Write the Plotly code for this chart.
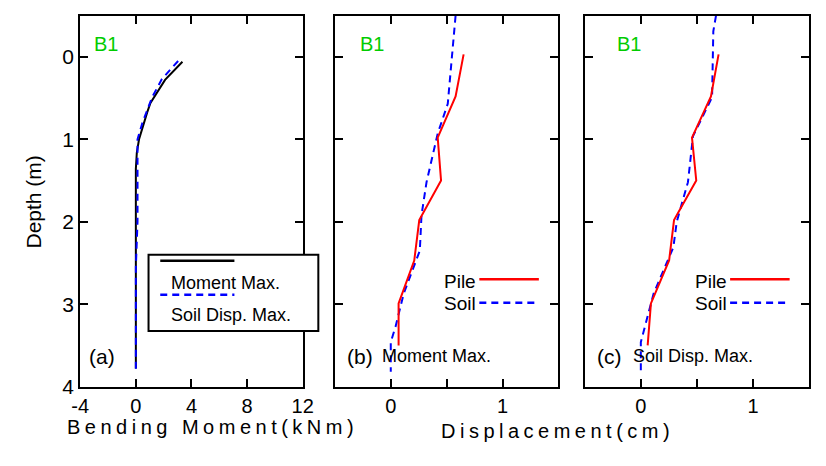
import plotly.graph_objects as go

W, H = 826, 466

# ---------------- data ----------------
# (a) bending moment profiles
depth_a_moment = [0.06, 0.19, 0.28, 0.56, 0.67, 1.0, 1.16, 1.36, 3.78]
moment_a_moment = [3.35, 2.57, 2.1, 1.05, 0.82, 0.23, 0.07, 0.0, 0.0]
depth_a_soil = [0.05, 0.27, 0.49, 0.8, 1.0, 2.0, 2.55, 3.8]
moment_a_soil = [3.04, 1.87, 1.17, 0.47, 0.12, 0.12, 0.0, 0.0]

# (b) displacement at moment max
depth_b_pile = [-0.03, 0.48, 0.98, 1.5, 1.98, 2.47, 2.99, 3.5]
disp_b_pile = [0.652, 0.58, 0.42, 0.45, 0.255, 0.21, 0.07, 0.07]
depth_b_soil = [-0.5, -0.03, 0.57, 0.93, 1.52, 1.92, 2.35, 2.87, 3.27, 3.46, 3.82]
disp_b_soil = [0.58, 0.55, 0.51, 0.42, 0.32, 0.275, 0.26, 0.116, 0.043, 0.0, 0.0]

# (c) displacement at soil displacement max
depth_c_pile = [-0.03, 0.48, 0.98, 1.5, 1.98, 2.47, 2.99, 3.5]
disp_c_pile = [0.693, 0.625, 0.456, 0.494, 0.296, 0.252, 0.09, 0.061]
depth_c_soil = [-0.5, -0.31, 0.49, 0.96, 1.52, 2.0, 2.31, 2.87, 3.46, 3.82]
disp_c_soil = [0.67, 0.646, 0.635, 0.465, 0.42, 0.32, 0.29, 0.114, 0.0, 0.0]

depth_ticks = [0, 1, 2, 3, 4]
moment_ticks = [-4, 0, 4, 8, 12]
moment_ticktext = ["-4", "0", "4", "8", "12"]
disp_tickvals = [-0.5, 0, 0.5, 1, 1.5]
disp_ticktext = ["", "0", "", "1", ""]

# ---------------- helpers ----------------
def px(x):
    return x / W

def py(y):
    return 1 - y / H

FONT = "Liberation Sans, Arial, sans-serif"
RED = "#ff0000"
BLUE = "#0000ff"
GREEN = "#00cc00"
DASH = "7px,5px"

fig = go.Figure()

fig.add_trace(go.Scatter(x=moment_a_moment, y=depth_a_moment, mode="lines",
                         line=dict(color="black", width=2), xaxis="x", yaxis="y",
                         showlegend=False))
fig.add_trace(go.Scatter(x=moment_a_soil, y=depth_a_soil, mode="lines",
                         line=dict(color=BLUE, width=2, dash=DASH), xaxis="x", yaxis="y",
                         showlegend=False))
fig.add_trace(go.Scatter(x=disp_b_soil, y=depth_b_soil, mode="lines",
                         line=dict(color=BLUE, width=2, dash=DASH), xaxis="x2", yaxis="y2",
                         showlegend=False))
fig.add_trace(go.Scatter(x=disp_b_pile, y=depth_b_pile, mode="lines",
                         line=dict(color=RED, width=2), xaxis="x2", yaxis="y2",
                         showlegend=False))
fig.add_trace(go.Scatter(x=disp_c_soil, y=depth_c_soil, mode="lines",
                         line=dict(color=BLUE, width=2, dash=DASH), xaxis="x3", yaxis="y3",
                         showlegend=False))
fig.add_trace(go.Scatter(x=disp_c_pile, y=depth_c_pile, mode="lines",
                         line=dict(color=RED, width=2), xaxis="x3", yaxis="y3",
                         showlegend=False))

ydom = [py(396), py(16)]
axis_common = dict(showline=True, linecolor="black", linewidth=2, mirror="allticks",
                   ticks="inside", ticklen=8, tickwidth=2, tickcolor="black",
                   showgrid=False, zeroline=False)
xtickfont = dict(family=FONT, size=20, color="black")
ytickfont = dict(family=FONT, size=21, color="black")

fig.update_layout(
    width=W, height=H,
    margin=dict(l=0, r=0, t=0, b=0),
    paper_bgcolor="white", plot_bgcolor="white",
    showlegend=False,
    xaxis=dict(domain=[px(73), px(301)], range=[-4, 12], tickvals=moment_ticks,
               ticktext=moment_ticktext, anchor="y", tickfont=xtickfont, **axis_common),
    xaxis2=dict(domain=[px(334), px(563)], range=[-0.5, 1.5], tickvals=disp_tickvals,
                ticktext=disp_ticktext, anchor="y2", tickfont=xtickfont, **axis_common),
    xaxis3=dict(domain=[px(590), px(820)], range=[-0.5, 1.5], tickvals=disp_tickvals,
                ticktext=disp_ticktext, anchor="y3", tickfont=xtickfont, **axis_common),
    yaxis=dict(domain=ydom, range=[4, -0.5], tickvals=depth_ticks, anchor="x",
               tickfont=ytickfont, **axis_common),
    yaxis2=dict(domain=ydom, range=[4, -0.5], tickvals=depth_ticks, showticklabels=False,
                anchor="x2", **axis_common),
    yaxis3=dict(domain=ydom, range=[4, -0.5], tickvals=depth_ticks, showticklabels=False,
                anchor="x3", **axis_common),
)

ann = []
def text(x, y, s, size=21, color="black", xanchor="left"):
    ann.append(dict(x=px(x), y=py(y), xref="paper", yref="paper", text=s,
                    showarrow=False, xanchor=xanchor, yanchor="middle",
                    font=dict(family=FONT, size=size, color=color)))

# B1 labels
for x0 in (85, 358, 621):
    text(x0, 45, "B1", size=20, color=GREEN)

# panel labels
text(80, 365, "(a)")
text(344, 365, "(b)")
text(380, 365, "Moment Max.", size=18)
text(601, 365, "(c)")
text(637, 365, "Soil Disp. Max.", size=18)

# axis titles
text(209, 437, '<span style="letter-spacing:4.5px">Bending Moment(kNm)</span>',
     size=20, xanchor="center")
text(562, 441, '<span style="letter-spacing:4.5px">Displacement(cm)</span>',
     size=20, xanchor="center")
ann.append(dict(x=px(25), y=py(207), xref="paper", yref="paper", text="Depth (m)",
                showarrow=False, textangle=-90, xanchor="center", yanchor="middle",
                font=dict(family=FONT, size=21, color="black")))

# legend (a)
text(164, 290, "Moment Max.", size=18)
text(164, 323, "Soil Disp. Max.", size=18)
# legend (b),(c)
text(444, 288, "Pile", size=19)
text(444, 311, "Soil", size=19)
text(701, 288, "Pile", size=19)
text(701, 311, "Soil", size=19)

shapes = []
shapes.append(dict(type="rect", xref="paper", yref="paper", x0=px(143), x1=px(317),
                   y0=py(339), y1=py(261), line=dict(color="black", width=2),
                   fillcolor="white", layer="above"))
def seg(x0, x1, y, color, dash="solid"):
    shapes.append(dict(type="line", xref="paper", yref="paper", x0=px(x0), x1=px(x1),
                       y0=py(y), y1=py(y), line=dict(color=color, width=2.5, dash=dash),
                       layer="above"))
seg(155, 231, 267, "black")
seg(155, 231, 302, BLUE, DASH)
seg(482, 543, 286, RED)
seg(482, 543, 310, BLUE, DASH)
seg(739, 800, 286, RED)
seg(739, 800, 310, BLUE, DASH)

fig.update_layout(annotations=ann, shapes=shapes)

fig.write_html("out.html")
